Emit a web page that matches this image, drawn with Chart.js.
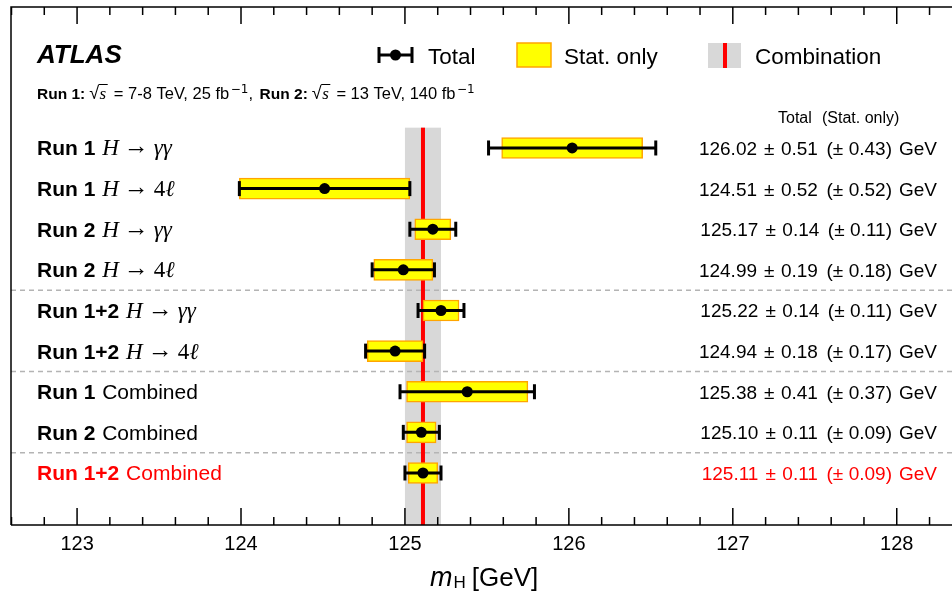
<!DOCTYPE html>
<html>
<head>
<meta charset="utf-8">
<script src="https://cdn.jsdelivr.net/npm/chart.js@4.4.1/dist/chart.umd.min.js"></script>
<style>
  html, body { margin: 0; padding: 0; background: #fff; }
</style>
</head>
<body>
<canvas id="massChart" width="952" height="591"></canvas>
<script>
var runLabels = ['Run 1', 'Run 1', 'Run 2', 'Run 2', 'Run 1+2', 'Run 1+2', 'Run 1', 'Run 2', 'Run 1+2'];
var channels = ['yy', '4l', 'yy', '4l', 'yy', '4l', 'comb', 'comb', 'comb'];
var masses = [126.02, 124.51, 125.17, 124.99, 125.22, 124.94, 125.38, 125.10, 125.11];
var totalErr = [0.51, 0.52, 0.14, 0.19, 0.14, 0.18, 0.41, 0.11, 0.11];
var statErr = [0.43, 0.52, 0.11, 0.18, 0.11, 0.17, 0.37, 0.09, 0.09];
var combMass = 125.11;
var combErr = 0.11;
var xTicks = [123, 124, 125, 126, 127, 128];
var groupBreaks = [3.5, 5.5, 7.5];

var SANS = '"Liberation Sans", Arial, sans-serif';
var SERIF = '"Liberation Serif", "DejaVu Serif", serif';
var RED = '#ff0000';

function runsWidth(ctx, runs) {
    var w = 0;
    runs.forEach(function (r) {
        ctx.font = r.font;
        w += ctx.measureText(r.t).width + (r.gap || 0);
    });
    return w;
}

function drawRuns(ctx, x, y, runs) {
    runs.forEach(function (r) {
        ctx.font = r.font;
        ctx.fillStyle = r.color || '#000';
        ctx.fillText(r.t, x, y + (r.dy || 0));
        x += ctx.measureText(r.t).width + (r.gap || 0);
    });
    return x;
}

// sqrt(s) with a bar over the s
function drawSqrtS(ctx, x, y) {
    x = drawRuns(ctx, x, y, [{ t: '\u221A', font: '18px ' + SANS }]);
    ctx.font = 'italic 17px ' + SERIF;
    var sw = ctx.measureText('s').width;
    ctx.beginPath();
    ctx.lineWidth = 1;
    ctx.moveTo(x - 0.5, y - 14.5);
    ctx.lineTo(x + sw + 2, y - 14.5);
    ctx.stroke();
    return drawRuns(ctx, x + 0.5, y, [{ t: 's', font: 'italic 17px ' + SERIF, gap: 3 }]);
}

function drawInvFb(ctx, x, y) {
    return drawRuns(ctx, x, y, [{ t: '\u22121', font: '12px "DejaVu Sans"', dy: -6 }]);
}

// background stuff: combination band, red line, dashed separators
var bandPlugin = {
    id: 'band',
    beforeDatasetsDraw: function (chart) {
        var ctx = chart.ctx, xs = chart.scales.x, ys = chart.scales.y, a = chart.chartArea;
        ctx.save();
        var x0 = xs.getPixelForValue(combMass - combErr);
        var x1 = xs.getPixelForValue(combMass + combErr);
        var yTop = ys.getPixelForValue(-0.5);
        ctx.fillStyle = '#d8d8d8';
        ctx.fillRect(x0, yTop, x1 - x0, a.bottom - yTop);
        ctx.setLineDash([5, 4]);
        ctx.strokeStyle = '#b4b4b4';
        ctx.lineWidth = 1.5;
        groupBreaks.forEach(function (b) {
            var y = ys.getPixelForValue(b);
            ctx.beginPath();
            ctx.moveTo(a.left, y);
            ctx.lineTo(a.right, y);
            ctx.stroke();
        });
        ctx.setLineDash([]);
        var xc = xs.getPixelForValue(combMass);
        ctx.fillStyle = RED;
        ctx.fillRect(xc - 2, yTop, 4, a.bottom - yTop);
        ctx.restore();
    }
};

// frame, ticks, labels, legend
var textPlugin = {
    id: 'texts',
    afterDraw: function (chart) {
        var ctx = chart.ctx, xs = chart.scales.x, ys = chart.scales.y, a = chart.chartArea;
        ctx.save();
        ctx.strokeStyle = '#000';
        ctx.lineWidth = 1.5;
        ctx.beginPath();
        ctx.moveTo(a.left, a.bottom);
        ctx.lineTo(a.left, a.top);
        ctx.lineTo(a.right, a.top);
        ctx.moveTo(a.left, a.bottom);
        ctx.lineTo(a.right, a.bottom);
        for (var t = 613; t <= 641; t++) {
            var px = xs.getPixelForValue(t / 5);
            var len = (t % 5 === 0) ? 17 : 8;
            ctx.moveTo(px, a.top);
            ctx.lineTo(px, a.top + len);
            ctx.moveTo(px, a.bottom);
            ctx.lineTo(px, a.bottom - len);
        }
        ctx.stroke();

        ctx.textBaseline = 'alphabetic';
        ctx.textAlign = 'left';

        // ATLAS label and luminosity line
        drawRuns(ctx, 37, 63, [{ t: 'ATLAS', font: 'italic bold 26px ' + SANS }]);
        var x = drawRuns(ctx, 37, 99, [{ t: 'Run 1:', font: 'bold 15.5px ' + SANS, gap: 4 }]);
        x = drawSqrtS(ctx, x, 99);
        x = drawRuns(ctx, x, 99, [{ t: ' = 7-8 TeV, 25 fb', font: '16.5px ' + SANS, gap: 1.5 }]);
        x = drawInvFb(ctx, x, 99);
        x = drawRuns(ctx, x, 99, [{ t: ', ', font: '16.5px ' + SANS, gap: 2 },
                                  { t: 'Run 2:', font: 'bold 15.5px ' + SANS, gap: 4 }]);
        x = drawSqrtS(ctx, x, 99);
        x = drawRuns(ctx, x, 99, [{ t: ' = 13 TeV, 140 fb', font: '16.5px ' + SANS, gap: 1.5 }]);
        drawInvFb(ctx, x, 99);

        // legend
        ctx.strokeStyle = '#000';
        ctx.lineWidth = 3;
        ctx.beginPath();
        ctx.moveTo(378, 55); ctx.lineTo(413, 55);
        ctx.moveTo(379, 47); ctx.lineTo(379, 63);
        ctx.moveTo(412, 47); ctx.lineTo(412, 63);
        ctx.stroke();
        ctx.beginPath(); ctx.arc(395.5, 55, 5.5, 0, Math.PI * 2); ctx.fillStyle = '#000'; ctx.fill();
        drawRuns(ctx, 428, 64, [{ t: 'Total', font: '22.5px ' + SANS }]);
        ctx.fillStyle = '#ffff00';
        ctx.fillRect(517, 43, 34, 24);
        ctx.strokeStyle = '#ffa500'; ctx.lineWidth = 1.5;
        ctx.strokeRect(517, 43, 34, 24);
        drawRuns(ctx, 564, 64, [{ t: 'Stat. only', font: '22.5px ' + SANS }]);
        ctx.fillStyle = '#d8d8d8';
        ctx.fillRect(708, 43, 33, 25);
        ctx.fillStyle = RED;
        ctx.fillRect(723, 43, 4, 25);
        drawRuns(ctx, 755, 64, [{ t: 'Combination', font: '22.5px ' + SANS }]);

        drawRuns(ctx, 778, 123, [{ t: 'Total', font: '16px ' + SANS }]);
        drawRuns(ctx, 822, 123, [{ t: '(Stat. only)', font: '16px ' + SANS }]);

        // row labels and values
        for (var i = 0; i < masses.length; i++) {
            var y = ys.getPixelForValue(i) + 7.5;
            var col = (i === masses.length - 1) ? RED : '#000';
            var runs = [
                { t: runLabels[i], font: 'bold 21px ' + SANS, color: col },
                { t: ' ', font: '21px ' + SANS, gap: 1 }
            ];
            if (channels[i] === 'yy') {
                runs.push({ t: 'H', font: 'italic 23px ' + SERIF, color: col, gap: 5 });
                runs.push({ t: '\u2192', font: '25px ' + SERIF, color: col, gap: 5, dy: -1 });
                runs.push({ t: '\u03B3\u03B3', font: 'italic 23px ' + SERIF, color: col });
            } else if (channels[i] === '4l') {
                runs.push({ t: 'H', font: 'italic 23px ' + SERIF, color: col, gap: 5 });
                runs.push({ t: '\u2192', font: '25px ' + SERIF, color: col, gap: 5, dy: -1 });
                runs.push({ t: '4', font: '23px ' + SERIF, color: col });
                runs.push({ t: '\u2113', font: 'italic 23px ' + SERIF, color: col });
            } else {
                runs.push({ t: 'Combined', font: '21px ' + SANS, color: col });
            }
            drawRuns(ctx, 37, y, runs);

            var vf = '19px ' + SANS;
            var vruns = [
                { t: masses[i].toFixed(2), font: vf, color: col, gap: 7 },
                { t: '\u00B1', font: vf, color: col, gap: 6.5 },
                { t: totalErr[i].toFixed(2), font: vf, color: col, gap: 8.5 },
                { t: '(\u00B1', font: vf, color: col, gap: 5.5 },
                { t: statErr[i].toFixed(2), font: vf, color: col },
                { t: ')', font: vf, color: col, gap: 7 },
                { t: 'GeV', font: vf, color: col }
            ];
            drawRuns(ctx, 937 - runsWidth(ctx, vruns), y - 0.5, vruns);
        }

        // axis title
        drawRuns(ctx, 430, 586, [
            { t: 'm', font: 'italic 27px ' + SANS, gap: 1 },
            { t: 'H', font: '17px ' + SANS, dy: 2, gap: 6 },
            { t: '[GeV]', font: '26px ' + SANS }
        ]);
        ctx.restore();
    }
};

var ctx = document.getElementById('massChart').getContext('2d');
var datasets = [{
    type: 'bar',
    data: masses.map(function (m, i) { return { x: [m - statErr[i], m + statErr[i]], y: i }; }),
    backgroundColor: '#ffff00',
    borderColor: '#ffa500',
    borderWidth: 1.5,
    borderSkipped: false,
    barThickness: 21,
    order: 3
}];
masses.forEach(function (m, i) {
    datasets.push({
        type: 'line',
        data: [{ x: m - totalErr[i], y: i }, { x: m + totalErr[i], y: i }],
        borderColor: '#000',
        borderWidth: 3,
        pointStyle: 'line',
        pointRadius: 7.5,
        pointBorderWidth: 3,
        pointRotation: 90,
        pointBorderColor: '#000',
        fill: false,
        order: 2
    });
});
datasets.push({
    type: 'scatter',
    data: masses.map(function (m, i) { return { x: m, y: i }; }),
    backgroundColor: '#000',
    borderWidth: 0,
    pointRadius: 5.5,
    order: 1
});

var massChart = new Chart(ctx, {
    type: 'bar',
    data: { datasets: datasets },
    options: {
        responsive: false,
        animation: false,
        indexAxis: 'y',
        layout: { autoPadding: false, padding: { left: 11, top: 7, right: 0, bottom: 31 } },
        plugins: { legend: { display: false }, tooltip: { enabled: false } },
        scales: {
            x: {
                type: 'linear',
                min: 122.597,
                max: 128.337,
                grid: { display: false, drawTicks: false },
                border: { display: false },
                ticks: { color: '#000', padding: 7, font: { family: 'Liberation Sans', size: 20 } },
                afterBuildTicks: function (scale) {
                    scale.ticks = xTicks.map(function (v) { return { value: v }; });
                },
                afterFit: function (scale) { scale.height = 35; }
            },
            y: {
                type: 'linear',
                display: false,
                reverse: true,
                offset: false,
                min: -3.47,
                max: 9.28
            }
        }
    },
    plugins: [bandPlugin, textPlugin]
});
</script>
</body>
</html>
